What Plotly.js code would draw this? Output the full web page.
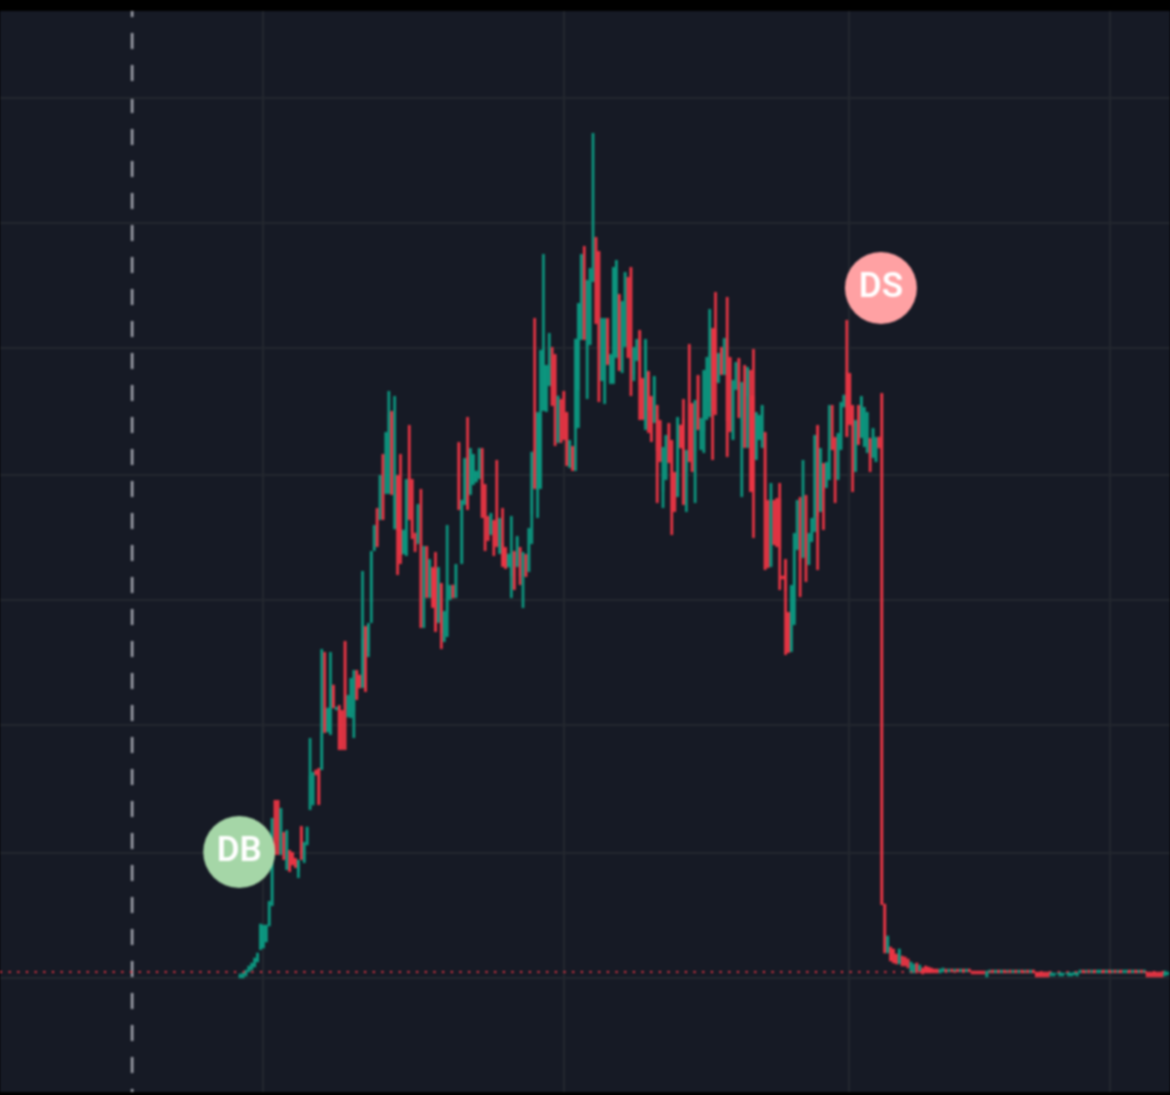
<!DOCTYPE html>
<html><head><meta charset="utf-8">
<script src="https://cdn.plot.ly/plotly-3.0.1.min.js"></script>
<style>html,body{margin:0;padding:0;background:#000}#c{width:1170px;height:1095px;filter:blur(0.8px)}</style></head>
<body><div id="c"></div>
<script>
var open=[1,1,3,7,9,12,17,30,31,37,53,74,176,176,128,144,110,126,124,118,108,150,118,134,170,174,207,208,210,268,247,245,292,269,271,265,335,262,262,268,306,302,292,
350,328,377,429,468,460,522,486,486,564,450,501,448,425,424,499,497,444,439,432,380,430,382,408,408,357,393,338,367,380,392,382,533,416,476,520,486,496,497,501,527,492,460,445,456,458,426,434,429,412,403,425,413,429,403,422,408,465,527,489,491,569,568,594,621,621,537,577,585,563,512,530,550,589,641,698,633,635,698,739,725,599,598,657,597,597,622,682,631,633,699,709,605,619,646,598,553,605,580,557,
563,556,488,500,553,536,504,483,552,558,508,573,573,528,601,530,548,560,578,648,648,597,629,605,638,619,540,590,618,558,611,583,581,581,520,540,532,544,476,413,476,478,478,401,417,364,328,358,430,479,422,481,415,438,458,551,468,513,492,500,538,539,500,530,572,605,603,571,508,571,542,533,527,538,522,518,540,583,
73,26,30,28,23,15,21,20,18,6,6,14,8,9,11,10,9,8,8,6,7,8,7,8,7,8,7,8,7,8,6,6,6,6,6,2,6,7,6,7,6,7,6,7,6,7,6,7,6,7,6,7,5,5,5,5,5,3,3,4,3,3,4,3,3,4,3,6,7,6,7,6,7,6,6,7,6,7,6,7,6,7,6,6,7,6,7,6,7,6,5,5,5,5,5,5,3,4];
var high=[3,4,8,11,14,19,25,53,53,53,77,160,178,178,170,146,148,128,126,120,118,152,136,151,240,206,208,210,329,326,270,326,293,271,273,268,337,283,300,308,308,303,
407,352,355,427,453,470,503,524,546,587,567,582,503,524,448,499,553,499,445,474,489,432,432,419,411,426,411,395,367,453,393,393,414,536,478,520,561,530,524,507,530,530,494,462,465,458,518,460,470,431,424,462,427,442,431,426,424,450,525,660,566,628,724,613,645,631,624,582,579,587,566,538,532,638,675,724,732,698,710,845,741,727,660,660,660,624,711,718,684,677,706,701,711,631,639,648,600,639,607,582,602,
573,558,531,543,555,538,506,561,553,579,528,634,575,578,603,560,608,621,669,650,686,625,631,640,681,621,598,616,620,596,613,611,608,629,566,563,573,546,478,495,478,480,495,402,419,366,393,445,478,481,518,483,445,460,543,553,530,515,516,573,573,541,545,576,583,658,605,573,558,573,582,571,566,540,550,541,541,585,
73,41,30,28,23,28,21,20,18,15,13,14,12,9,11,10,9,8,8,8,9,8,8,8,8,8,8,8,8,8,6,6,6,6,6,6,7,7,7,7,7,7,7,7,7,7,7,7,7,7,7,7,5,5,5,5,5,5,4,5,5,4,5,5,4,5,5,7,7,7,7,7,7,7,7,7,7,7,7,7,7,7,7,7,7,7,7,7,7,7,5,5,5,5,5,5,6,5];
var low=[1,1,2,7,9,11,16,28,30,36,53,72,123,123,123,118,108,106,113,110,100,118,115,133,168,173,203,173,208,245,246,243,270,268,228,228,228,261,260,240,278,290,290,286,321,
355,427,431,458,458,484,484,483,450,403,414,424,422,458,439,426,434,350,350,380,380,370,346,355,329,336,341,378,380,380,468,414,473,468,483,493,496,499,460,427,437,443,422,431,424,411,409,411,380,388,411,393,370,401,406,434,489,460,489,567,566,592,572,532,535,535,538,512,510,507,507,550,638,638,579,633,696,654,576,597,574,613,594,594,620,607,605,631,620,582,597,617,558,558,548,545,536,555,
475,516,470,498,515,443,466,481,530,473,466,516,506,475,548,528,525,558,561,518,563,595,603,603,521,546,538,588,560,481,530,530,486,440,518,538,530,408,410,411,433,431,388,400,323,325,326,353,428,381,420,396,413,436,446,408,466,448,490,498,528,475,498,528,571,541,553,486,506,533,540,531,525,506,520,516,530,73,
26,26,18,16,15,15,13,13,11,6,6,6,8,5,6,6,6,6,6,6,7,7,7,7,7,7,7,7,7,7,5,5,5,5,5,2,6,6,6,6,6,6,6,6,6,6,6,6,6,6,6,6,2,2,2,2,2,3,3,4,3,3,4,3,3,4,3,6,6,6,6,6,6,6,6,6,6,6,6,6,6,6,6,6,6,6,6,6,6,6,2,2,2,2,2,2,3,4];
var close=[3,4,7,11,14,19,24,53,52,52,75,158,140,138,168,120,146,108,114,112,117,126,134,150,201,203,204,175,245,248,269,288,271,270,230,232,270,281,298,300,280,291,338,
288,353,425,451,433,501,460,544,563,485,483,448,424,447,497,460,448,434,471,352,430,382,417,373,348,408,346,365,393,391,381,412,470,476,518,470,527,522,506,527,462,460,439,463,434,433,458,414,411,423,424,390,439,403,424,403,448,525,491,563,563,628,611,612,574,574,581,537,540,514,536,509,638,673,722,640,696,708,708,656,631,657,657,615,621,709,716,609,675,704,622,620,629,637,594,560,637,569,538,600,
528,518,529,541,517,468,468,559,531,475,526,518,508,576,550,558,606,608,623,568,598,623,605,638,558,548,596,614,562,594,532,609,488,488,564,561,571,410,412,478,435,433,430,400,388,327,391,443,476,418,478,423,443,458,541,463,528,488,514,528,530,528,543,574,582,543,555,553,556,535,580,569,564,523,548,539,531,75,
26,41,18,16,15,28,13,13,11,15,13,6,12,5,6,6,6,6,6,8,9,7,8,7,8,7,8,7,8,7,5,5,5,5,5,6,7,6,7,6,7,6,7,6,7,6,7,6,7,6,7,6,2,2,2,2,2,5,4,4,5,4,4,5,4,5,5,7,6,7,6,7,6,7,7,6,7,6,7,6,7,6,7,7,6,7,6,7,6,7,2,2,2,2,2,2,6,5];
var bars=open.map(function(_,i){return i;});
var gridX=[8,111.1,208.8,298.4];
var gridY=[0,125,253,378,503,630,755,880];
var badgeX=[-0.3,219.7];
var badgeY=[126,690];
var badgeText=['DB','DS'];
var badgeColor=['#a5d6a7','#ffa1a3'];
var entryBar=-37;
var lastPrice=6;
var axisTop=977, axisBottom=-114;

Plotly.newPlot('c',[
 {type:'candlestick',x:bars,open:open,high:high,low:low,close:close,whiskerwidth:0,hoverinfo:'skip',
  increasing:{line:{color:'#0c9c83',width:2.6},fillcolor:'#0c9c83'},
  decreasing:{line:{color:'#f23645',width:2.6},fillcolor:'#f23645'}},
 {type:'scatter',mode:'markers+text',x:badgeX,y:badgeY,text:badgeText,textposition:'middle center',hoverinfo:'skip',
  marker:{size:72,color:badgeColor,line:{width:0}},
  textfont:{family:'Roboto,"Open Sans",sans-serif',size:35,weight:600,color:'#ffffff'}}
],{
 width:1170,height:1095,margin:{l:0,r:0,t:11,b:3,pad:0},showlegend:false,boxgap:0.9,
 paper_bgcolor:'#000000',plot_bgcolor:'#161a25',
 xaxis:{range:[-82.3,318.8],rangeslider:{visible:false},tickmode:'array',tickvals:gridX,showticklabels:false,ticks:'',gridcolor:'#23272f',gridwidth:2,zeroline:false,showline:false},
 yaxis:{range:[-114,967],tickmode:'array',tickvals:gridY,showticklabels:false,ticks:'',gridcolor:'#23272f',gridwidth:2,zeroline:false,showline:false},
 shapes:[
  {type:'line',xref:'x',yref:'y',x0:entryBar,x1:entryBar,y0:axisTop,y1:axisBottom,line:{color:'#a3a6af',width:2.5,dash:'16px,16px'},layer:'below'},
  {type:'line',xref:'paper',yref:'y',x0:0,x1:1,y0:lastPrice,y1:lastPrice,line:{color:'#f23645',width:2,dash:'2px,6.67px'},layer:'above'}
 ]
},{displayModeBar:false,staticPlot:true});
</script></body></html>
